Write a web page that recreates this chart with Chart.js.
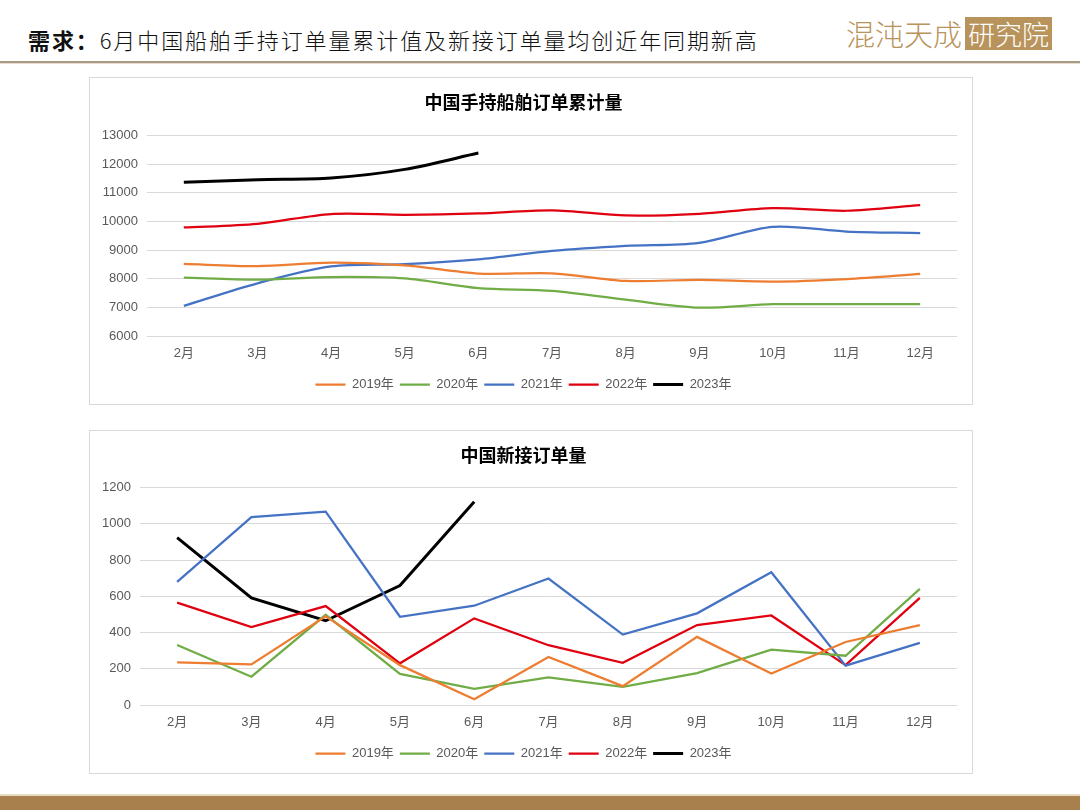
<!DOCTYPE html>
<html>
<head>
<meta charset="utf-8">
<script src="https://cdn.jsdelivr.net/npm/chart.js@4.4.0/dist/chart.umd.min.js"></script>
<style>
  html, body { margin: 0; padding: 0; background: #fff; }
  #page { position: relative; width: 1080px; height: 810px; overflow: hidden; background: #fff; }
  #headline {
    position: absolute; left: 28px; top: 23px;
    font-family: "Noto Sans CJK SC", sans-serif; font-weight: 300;
    font-size: 22px; letter-spacing: 1.9px; color: #111; white-space: nowrap;
  }
  #headline b { font-weight: 700; }
  #logo { position: absolute; left: 846px; top: 15px; height: 36px; display: flex; align-items: center; }
  #logo .brand {
    font-family: "Noto Sans CJK SC", sans-serif; font-weight: 300;
    font-size: 29px; color: #b8945c; letter-spacing: 0px; line-height: 36px;
  }
  #logo .box {
    margin-left: 3px; background: #b8945c; color: #fff;
    font-family: "Noto Sans CJK SC", sans-serif; font-weight: 300;
    font-size: 27px; line-height: 33px; padding: 0 3px;
  }
  #rule1 { position: absolute; left: 0; top: 61px; width: 1080px; height: 2px; background: #a89b85; }
  #rule2 { position: absolute; left: 0; top: 63px; width: 1080px; height: 1px; background: #e3dccf; }
  .panel { position: absolute; left: 89px; width: 884px; border: 1px solid #d9d9d9; box-sizing: border-box; background: #fff; }
  #p1 { top: 77px; height: 328px; }
  #p2 { top: 430px; height: 344px; }
  .panel canvas { position: absolute; left: 0; top: 0; }
  #foot1 { position: absolute; left: 0; top: 794px; width: 1080px; height: 2px; background: #e9dcc4; }
  #foot2 { position: absolute; left: 0; top: 796px; width: 1080px; height: 14px; background: #a8804e; }
</style>
</head>
<body>
<div id="page">
  <div id="headline"><b>需求：</b>6月中国船舶手持订单量累计值及新接订单量均创近年同期新高</div>
  <div id="logo"><span class="brand">混沌天成</span><span class="box">研究院</span></div>
  <div id="rule1"></div><div id="rule2"></div>
  <div class="panel" id="p1"><canvas id="holdChart" width="882" height="326"></canvas></div>
  <div class="panel" id="p2"><canvas id="newChart" width="882" height="342"></canvas></div>
  <div id="foot1"></div><div id="foot2"></div>
</div>
<script>
const months = ["2月", "3月", "4月", "5月", "6月", "7月", "8月", "9月", "10月", "11月", "12月"];
const years = ["2019年", "2020年", "2021年", "2022年", "2023年"];
const colors = ["#ED7D31", "#70AD47", "#4472C4", "#E00010", "#000000"];

// 手持订单累计量
const hold2019 = [8520, 8440, 8560, 8470, 8180, 8190, 7925, 7960, 7900, 7990, 8170];
const hold2020 = [8040, 7970, 8060, 8010, 7670, 7575, 7270, 6990, 7110, 7110, 7110];
const hold2021 = [7050, 7840, 8430, 8510, 8680, 8975, 9150, 9255, 9815, 9650, 9595];
const hold2022 = [9790, 9920, 10260, 10235, 10280, 10390, 10210, 10270, 10470, 10375, 10575];
const hold2023 = [11370, 11460, 11520, 11820, 12390];

// 新接订单量
const new2019 = [235, 224, 489, 220, 32, 265, 104, 376, 174, 348, 441];
const new2020 = [331, 156, 498, 172, 89, 152, 100, 176, 306, 272, 641];
const new2021 = [680, 1037, 1067, 487, 548, 698, 389, 506, 733, 217, 343];
const new2022 = [565, 430, 546, 230, 478, 330, 233, 441, 494, 220, 591];
const new2023 = [924, 591, 465, 659, 1122];

const tickFont = { family: "'Liberation Sans', 'Noto Sans CJK SC', sans-serif", size: 13 };
const tickColor = "#595959";

function makeSets(series, tension) {
  return series.map((data, i) => ({
    label: years[i],
    data,
    borderColor: colors[i],
    backgroundColor: colors[i],
    borderWidth: i === 4 ? 3 : 2.25,
    pointRadius: 0,
    tension,
    fill: false
  }));
}

function buildChart(id, title, series, yMin, yMax, step, yWidth, tension, titleGap) {
  const ctx = document.getElementById(id).getContext("2d");
  return new Chart(ctx, {
    type: "line",
    data: { labels: months, datasets: makeSets(series, tension) },
    options: {
      responsive: false,
      animation: false,
      layout: { padding: { left: 0, right: 15, top: 0, bottom: 3 } },
      plugins: {
        title: {
          display: true,
          text: title,
          color: "#000",
          font: { family: "'Noto Sans CJK SC', sans-serif", size: 18, weight: "bold" },
          padding: { top: 13, bottom: titleGap }
        },
        legend: {
          position: "bottom",
          labels: {
            boxWidth: 30,
            boxHeight: 0,
            padding: 6,
            color: tickColor,
            font: tickFont
          }
        },
        tooltip: { enabled: false }
      },
      scales: {
        x: {
          offset: true,
          grid: { display: false, drawTicks: false },
          border: { display: false },
          ticks: { color: tickColor, font: tickFont, padding: 10, maxRotation: 0 },
          afterFit: (scale) => { scale.height = 36; }
        },
        y: {
          min: yMin,
          max: yMax,
          grid: { color: "#d9d9d9", lineWidth: 1, drawTicks: false },
          border: { display: false },
          ticks: { stepSize: step, color: tickColor, font: tickFont, padding: 9, callback: (v) => String(v) },
          afterFit: (scale) => { scale.width = yWidth; }
        }
      }
    }
  });
}

buildChart("holdChart", "中国手持船舶订单累计量",
  [hold2019, hold2020, hold2021, hold2022, hold2023], 6000, 13000, 1000, 57, 0.3, 23);
buildChart("newChart", "中国新接订单量",
  [new2019, new2020, new2021, new2022, new2023], 0, 1200, 200, 50, 0, 22);
</script>
</body>
</html>
